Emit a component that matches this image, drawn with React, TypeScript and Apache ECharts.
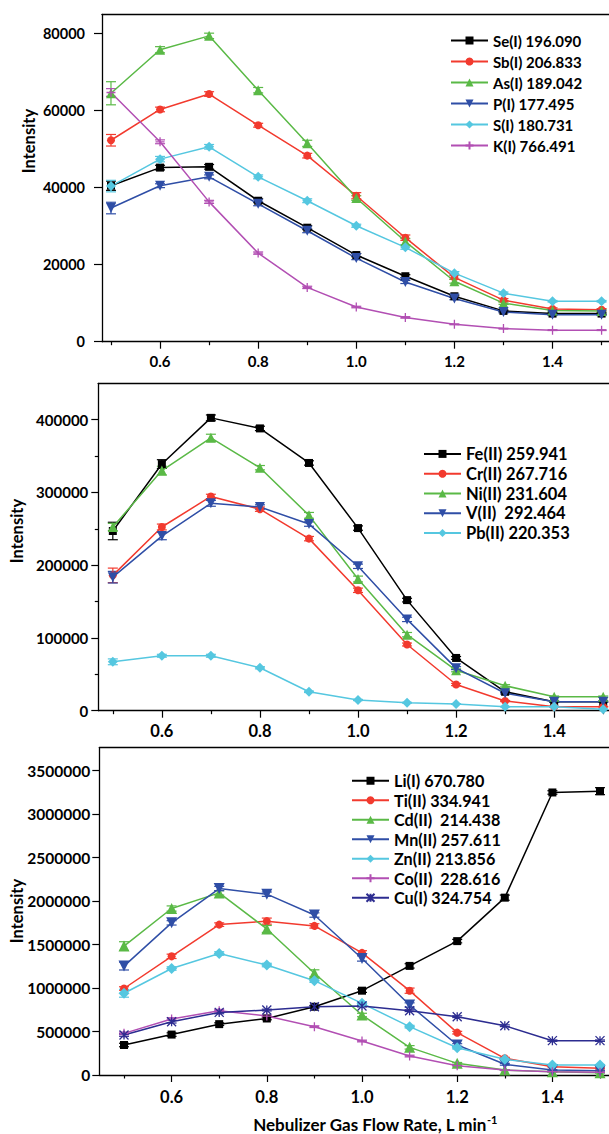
import React, { useEffect, useRef } from "react";
import * as echarts from "echarts";

// ---------- data ----------
const flowRates = [0.5, 0.6, 0.7, 0.8, 0.9, 1.0, 1.1, 1.2, 1.3, 1.4, 1.5];
const xMajorTicks = [0.6, 0.8, 1.0, 1.2, 1.4];
const xMinorTicks = [0.5, 0.7, 0.9, 1.1, 1.3, 1.5];

// Panel 1
const p1YTicks = [0, 20000, 40000, 60000, 80000];
const seI = [40500, 45200, 45400, 36600, 29600, 22500, 17000, 11800, 8000, 7300, 7300];
const seIErr = [1200, 600, 600, 500, 500, 400, 400, 300, 200, 200, 200];
const sbI = [52300, 60300, 64300, 56200, 48300, 37900, 27000, 16700, 10800, 8500, 8300];
const sbIErr = [1500, 600, 600, 500, 600, 800, 700, 500, 400, 300, 300];
const asI = [64500, 75800, 79400, 65300, 51500, 37300, 26000, 15700, 10000, 8100, 8000];
const asIErr = [3000, 800, 700, 700, 800, 600, 800, 500, 300, 300, 300];
const pI = [34700, 40500, 42800, 35800, 28800, 21700, 15500, 11200, 7700, 7000, 7000];
const pIErr = [1500, 500, 500, 500, 500, 400, 400, 300, 200, 200, 200];
const sI = [40400, 47400, 50600, 42800, 36600, 30100, 24500, 17800, 12600, 10500, 10500];
const sIErr = [1500, 700, 600, 500, 500, 400, 500, 400, 300, 200, 200];
const kI = [64700, 51900, 36300, 23000, 14100, 9000, 6300, 4500, 3400, 3000, 3000];
const kIErr = [1000, 500, 400, 300, 300, 200, 200, 100, 100, 100, 100];

// Panel 2
const p2YTicks = [0, 100000, 200000, 300000, 400000];
const p2YMinor = [50000, 150000, 250000, 350000];
const feII = [247000, 339000, 402500, 388000, 340500, 251000, 152000, 72500, 26000, 12300, 12300];
const feIIErr = [12000, 6000, 4000, 3000, 3000, 3000, 2500, 2000, 1000, 800, 800];
const crII = [186000, 252500, 294500, 277000, 236500, 165500, 91000, 36000, 13300, 5500, 5500];
const crIIErr = [10000, 4000, 3000, 3000, 3000, 3000, 2000, 1500, 800, 500, 500];
const niII = [252500, 330000, 375000, 334000, 268500, 181000, 104500, 55500, 34300, 19200, 19200];
const niIIErr = [5000, 6000, 5000, 3000, 4000, 4000, 3000, 2000, 1500, 1000, 1000];
const vII = [183500, 240000, 285000, 280000, 256500, 198500, 125500, 58500, 24000, 12300, 12300];
const vIIErr = [8000, 5000, 4000, 3000, 3000, 3000, 3000, 2000, 1000, 800, 800];
const pbII = [67200, 75500, 75500, 59000, 26000, 14700, 11000, 9200, 5500, 5500, 2000];
const pbIIErr = [4000, 2000, 2000, 1500, 1000, 800, 500, 500, 300, 300, 300];

// Panel 3
const p3YTicks = [0, 500000, 1000000, 1500000, 2000000, 2500000, 3000000, 3500000];
const liI = [345000, 465000, 585000, 650000, 785000, 970000, 1255000, 1540000, 2040000, 3250000, 3265000];
const liIErr = [20000, 20000, 15000, 15000, 15000, 20000, 25000, 20000, 30000, 20000, 40000];
const tiII = [995000, 1365000, 1730000, 1770000, 1715000, 1405000, 970000, 487000, 192000, 96000, 77000];
const tiIIErr = [20000, 25000, 20000, 35000, 25000, 25000, 30000, 15000, 10000, 5000, 5000];
const cdII = [1483000, 1915000, 2095000, 1680000, 1170000, 690000, 318000, 134000, 57000, 38000, 27000];
const cdIIErr = [50000, 30000, 25000, 40000, 40000, 20000, 20000, 10000, 5000, 5000, 5000];
const mnII = [1253000, 1750000, 2145000, 2080000, 1840000, 1340000, 805000, 345000, 123000, 57000, 50000];
const mnIIErr = [45000, 25000, 25000, 25000, 25000, 30000, 25000, 15000, 10000, 5000, 5000];
const znII = [940000, 1225000, 1398000, 1265000, 1085000, 824000, 556000, 314000, 180000, 115000, 115000];
const znIIErr = [45000, 20000, 20000, 20000, 20000, 20000, 15000, 15000, 10000, 5000, 5000];
const coII = [479000, 644000, 740000, 678000, 556000, 391000, 218000, 107000, 57000, 38000, 31000];
const coIIErr = [15000, 15000, 15000, 10000, 10000, 10000, 10000, 5000, 5000, 3000, 3000];
const cuI = [460000, 613000, 720000, 747000, 786000, 793000, 740000, 671000, 567000, 395000, 395000];
const cuIErr = [15000, 15000, 15000, 10000, 10000, 10000, 10000, 10000, 10000, 8000, 8000];

const seriesNamesP1 = ["Se(I) 196.090", "Sb(I) 206.833", "As(I) 189.042", "P(I) 177.495", "S(I) 180.731", "K(I) 766.491"];
const seriesNamesP2 = ["Fe(II) 259.941", "Cr(II) 267.716", "Ni(II) 231.604", "V(II)  292.464", "Pb(II) 220.353"];
const seriesNamesP3 = ["Li(I) 670.780", "Ti(II) 334.941", "Cd(II)  214.438", "Mn(II) 257.611", "Zn(II) 213.856", "Co(II)  228.616", "Cu(I) 324.754"];

const xAxisTitle = "Nebulizer Gas Flow Rate, L min";
const xAxisTitleSup = "-1";
const yAxisTitle = "Intensity";

// ---------- styles ----------
const BLACK = "#000000";
const RED = "#f23a2e";
const GREEN = "#5ab946";
const BLUE = "#2f4ea6";
const CYAN = "#55c7e0";
const PURPLE = "#b24fb3";
const NAVY = "#2c2c90";

const SYM_DOWN = "path://M0,0L10,0L5,9Z";
const SYM_PLUS = "path://M5,0L5,10M0,5L10,5";
const SYM_STAR = "path://M0,0L10,10M10,0L0,10M5,0L5,10";

type Style = { color: string; symbol: string; size: number; stroke?: boolean };
const p1Styles: Style[] = [
  { color: BLACK, symbol: "rect", size: 8 },
  { color: RED, symbol: "circle", size: 8 },
  { color: GREEN, symbol: "triangle", size: 10 },
  { color: BLUE, symbol: SYM_DOWN, size: 10 },
  { color: CYAN, symbol: "diamond", size: 10 },
  { color: PURPLE, symbol: SYM_PLUS, size: 9, stroke: true },
];
const p2Styles: Style[] = [
  { color: BLACK, symbol: "rect", size: 8 },
  { color: RED, symbol: "circle", size: 8 },
  { color: GREEN, symbol: "triangle", size: 10 },
  { color: BLUE, symbol: SYM_DOWN, size: 10 },
  { color: CYAN, symbol: "diamond", size: 10 },
];
const p3Styles: Style[] = [
  { color: BLACK, symbol: "rect", size: 8 },
  { color: RED, symbol: "circle", size: 8 },
  { color: GREEN, symbol: "triangle", size: 11 },
  { color: BLUE, symbol: SYM_DOWN, size: 11 },
  { color: CYAN, symbol: "diamond", size: 11 },
  { color: PURPLE, symbol: SYM_PLUS, size: 9, stroke: true },
  { color: NAVY, symbol: SYM_STAR, size: 9, stroke: true },
];

const FONT = "Lato, 'Open Sans', 'DejaVu Sans', sans-serif";

type Panel = {
  names: string[];
  values: number[][];
  errors: number[][];
  styles: Style[];
  left: number; top: number; width: number; height: number;
  xMin: number; xMax: number; yMax: number;
  yTicks: number[]; yMinor: number[];
  yTickLen: number; yLabelMargin: number; xLabelMargin: number;
  tickFont: number; xTickFont: number;
  legendLeft: number; legendTop: number; legendFont: number; legendLine: number; legendGap: number;
  titleX: number; titleY: number;
};

const panels: Panel[] = [
  {
    names: seriesNamesP1,
    values: [seI, sbI, asI, pI, sI, kI],
    errors: [seIErr, sbIErr, asIErr, pIErr, sIErr, kIErr],
    styles: p1Styles,
    left: 102, top: 14.3, width: 507, height: 327.4,
    xMin: 0.4817, xMax: 1.5151, yMax: 85000,
    yTicks: p1YTicks, yMinor: [],
    yTickLen: 8, yLabelMargin: 17, xLabelMargin: 12,
    tickFont: 14.5, xTickFont: 15,
    legendLeft: 450, legendTop: 30, legendFont: 15, legendLine: 21, legendGap: 0,
    titleX: 29, titleY: 141,
  },
  {
    names: seriesNamesP2,
    values: [feII, crII, niII, vII, pbII],
    errors: [feIIErr, crIIErr, niIIErr, vIIErr, pbIIErr],
    styles: p2Styles,
    left: 98.3, top: 383.3, width: 510.7, height: 327.4,
    xMin: 0.4704, xMax: 1.5118, yMax: 450000,
    yTicks: p2YTicks, yMinor: p2YMinor,
    yTickLen: 7, yLabelMargin: 10, xLabelMargin: 12,
    tickFont: 15, xTickFont: 16.5,
    legendLeft: 423, legendTop: 444, legendFont: 16.5, legendLine: 19.8, legendGap: 0,
    titleX: 17, titleY: 531,
  },
  {
    names: seriesNamesP3,
    values: [liI, tiII, cdII, mnII, znII, coII, cuI],
    errors: [liIErr, tiIIErr, cdIIErr, mnIIErr, znIIErr, coIIErr, cuIErr],
    styles: p3Styles,
    left: 99.3, top: 747.7, width: 509.7, height: 327.3,
    xMin: 0.4481, xMax: 1.5189, yMax: 3765000,
    yTicks: p3YTicks, yMinor: [],
    yTickLen: 7, yLabelMargin: 9, xLabelMargin: 13,
    tickFont: 15.5, xTickFont: 16.5,
    legendLeft: 351, legendTop: 771, legendFont: 16.2, legendLine: 19.5, legendGap: 0,
    titleX: 16.5, titleY: 911,
  },
];

function buildOption() {
  const grid: any[] = [];
  const xAxis: any[] = [];
  const yAxis: any[] = [];
  const series: any[] = [];
  const legend: any[] = [];
  const graphic: any[] = [];
  const axisLine = { show: true, lineStyle: { color: "#000", width: 1.3 } };

  panels.forEach((p, pi) => {
    grid.push({ left: p.left, top: p.top, width: p.width, height: p.height, containLabel: false });
    const xBase = xAxis.length;
    const yBase = yAxis.length;
    xAxis.push({
      type: "value", gridIndex: pi, position: "bottom", min: p.xMin, max: p.xMax,
      axisLine,
      axisTick: { show: true, customValues: xMajorTicks, length: 7, lineStyle: { color: "#000", width: 1.2 } },
      axisLabel: {
        show: true, customValues: xMajorTicks, margin: p.xLabelMargin,
        formatter: (v: number) => v.toFixed(1),
        color: "#000", fontFamily: FONT, fontWeight: "bold", fontSize: p.xTickFont,
      },
      splitLine: { show: false },
    });
    xAxis.push({
      type: "value", gridIndex: pi, position: "bottom", min: p.xMin, max: p.xMax,
      axisLine: { show: false },
      axisTick: { show: true, customValues: xMinorTicks, length: 3.5, lineStyle: { color: "#000", width: 1.2 } },
      axisLabel: { show: false },
      splitLine: { show: false },
    });
    xAxis.push({
      type: "value", gridIndex: pi, position: "top", min: p.xMin, max: p.xMax,
      axisLine, axisTick: { show: false }, axisLabel: { show: false }, splitLine: { show: false },
    });
    yAxis.push({
      type: "value", gridIndex: pi, position: "left", min: 0, max: p.yMax,
      axisLine,
      axisTick: { show: true, customValues: p.yTicks, length: p.yTickLen, lineStyle: { color: "#000", width: 1.2 } },
      axisLabel: {
        show: true, customValues: p.yTicks, margin: p.yLabelMargin,
        formatter: (v: number) => String(v),
        color: "#000", fontFamily: FONT, fontWeight: "bold", fontSize: p.tickFont,
      },
      splitLine: { show: false },
    });
    yAxis.push({
      type: "value", gridIndex: pi, position: "left", min: 0, max: p.yMax,
      axisLine: { show: false },
      axisTick: { show: p.yMinor.length > 0, customValues: p.yMinor.length ? p.yMinor : [0], length: 3.5, lineStyle: { color: "#000", width: 1.2 } },
      axisLabel: { show: false },
      splitLine: { show: false },
    });

    p.names.forEach((name, si) => {
      const st = p.styles[si];
      const vals = p.values[si];
      const errs = p.errors[si];
      series.push({
        type: "custom",
        name: name + " err",
        xAxisIndex: xBase, yAxisIndex: yBase,
        data: flowRates.map((x, i) => [x, vals[i], errs[i]]),
        encode: { x: 0, y: 1 },
        z: 1,
        silent: true,
        renderItem: (_params: any, api: any) => {
          const x = api.value(0);
          const y = api.value(1);
          const e = api.value(2);
          const a = api.coord([x, y + e]);
          const b = api.coord([x, y - e]);
          const hw = 5;
          const style = { stroke: st.color, lineWidth: 1.2, fill: null };
          return {
            type: "group",
            children: [
              { type: "line", shape: { x1: a[0], y1: a[1], x2: b[0], y2: b[1] }, style },
              { type: "line", shape: { x1: a[0] - hw, y1: a[1], x2: a[0] + hw, y2: a[1] }, style },
              { type: "line", shape: { x1: b[0] - hw, y1: b[1], x2: b[0] + hw, y2: b[1] }, style },
            ],
          };
        },
      });
      series.push({
        type: "line",
        name,
        xAxisIndex: xBase, yAxisIndex: yBase,
        data: flowRates.map((x, i) => [x, vals[i]]),
        symbol: st.symbol,
        symbolSize: st.size,
        showAllSymbol: true,
        z: 2,
        lineStyle: { color: st.color, width: 1.5 },
        itemStyle: st.stroke
          ? { color: st.color, borderColor: st.color, borderWidth: 1.3 }
          : { color: st.color, borderWidth: 0 },
      });
    });

    legend.push({
      data: p.names,
      orient: "vertical",
      left: p.legendLeft,
      top: p.legendTop,
      padding: 0,
      itemWidth: 37,
      itemHeight: 10,
      itemGap: p.legendGap,
      textStyle: {
        color: "#000", fontFamily: FONT, fontWeight: "bold", fontSize: p.legendFont,
        lineHeight: p.legendLine,
      },
      selectedMode: false,
    });

    graphic.push({
      type: "text",
      x: p.titleX,
      y: p.titleY,
      rotation: Math.PI / 2,
      style: {
        text: yAxisTitle,
        fill: "#000",
        font: `bold 16.5px ${FONT}`,
        align: "center",
        verticalAlign: "middle",
      },
    });
  });

  graphic.push({
    type: "text",
    x: 375,
    y: 1124,
    style: {
      text: `{a|${xAxisTitle}}{s|${xAxisTitleSup}}`,
      align: "center",
      verticalAlign: "middle",
      rich: {
        a: { fontFamily: FONT, fontWeight: "bold", fontSize: 17, fill: "#000", lineHeight: 20 },
        s: { fontFamily: FONT, fontWeight: "bold", fontSize: 11, fill: "#000", verticalAlign: "top", lineHeight: 20, padding: [0, 0, 8, 0] },
      },
    },
  });

  return {
    animation: false,
    backgroundColor: "#ffffff",
    grid, xAxis, yAxis, series, legend, graphic,
  };
}

export default function App() {
  const ref = useRef<HTMLDivElement>(null);
  useEffect(() => {
    if (!ref.current) return;
    const chart = echarts.init(ref.current, undefined, { renderer: "svg" });
    chart.setOption(buildOption() as any);
    return () => chart.dispose();
  }, []);
  return (
    <div
      ref={ref}
      style={{ position: "fixed", left: 0, top: 0, width: 609, height: 1134, background: "#fff" }}
    />
  );
}
